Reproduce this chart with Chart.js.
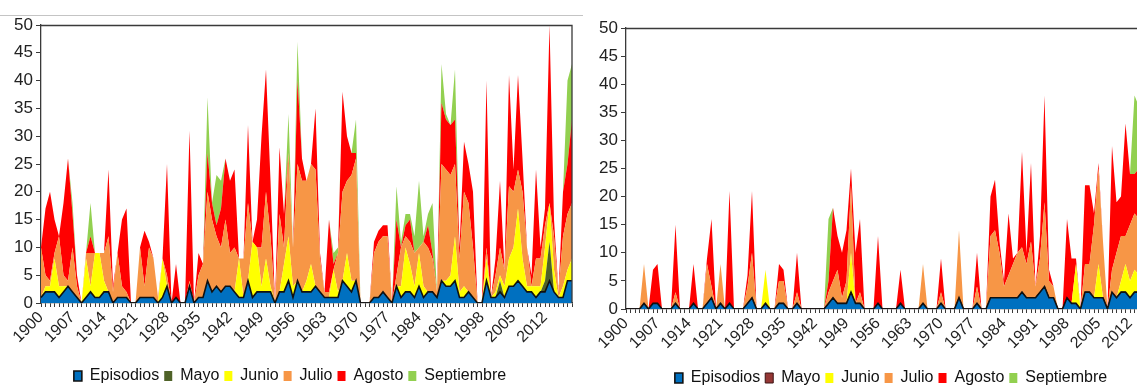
<!DOCTYPE html>
<html lang="es"><head><meta charset="UTF-8">
<title>Episodios por mes</title>
<script src="https://cdn.jsdelivr.net/npm/chart.js@4/dist/chart.umd.min.js"></script>
<style>
*{margin:0;padding:0;box-sizing:border-box}
html,body{width:1137px;height:385px;overflow:hidden;background:#fff}
.box{position:absolute;top:0}
#a{left:0;width:580px;height:396px}
#b{left:585px;width:612px;height:398px}
.rule{position:absolute;left:0;top:15px;width:583px;height:1px;background:#c4c4c4}
</style></head><body>
<div class="rule"></div>
<div class="box" id="a"><canvas id="c1"></canvas></div>
<div class="box" id="b"><canvas id="c2"></canvas></div>
<script>
const yearLabels = [];
for (let y = 1900; y <= 2018; y++) yearLabels.push(String(y));

// grafico izquierdo
const epA = [1,2,2,2,1,2,3,2,1,0, 1,2,1,1,2,2,0,1,1,1, 0,0,1,1,1,1,0,1,3,0, 1,0,0,3,0,1,1,4,2,3,
  2,3,3,2,1,1,4,1,2,2, 2,2,0,2,2,4,1,4,2,2, 2,3,2,1,1,1,1,4,3,2, 4,0,0,0,1,1,2,1,0,3,
  1,2,2,1,3,1,2,2,1,4, 3,3,4,1,1,2,1,0,0,4, 1,1,2,1,3,3,4,3,2,2, 1,2,2,4,2,1,1,4,4];
const mayoA = [0,0,0,0,0,0,0,0,0,0, 0,0,0,0,0,0,0,0,0,0, 0,0,0,0,0,0,0,0,0,0, 0,0,0,0,0,0,0,0,0,0,
  0,0,0,0,0,0,0,0,0,0, 0,0,0,0,0,0,0,0,0,0, 0,0,0,0,0,0,0,0,0,0, 0,0,0,0,0,0,0,0,0,0,
  0,0,0,0,0,0,0,0,0,0, 0,0,0,0,0,0,0,0,0,0, 0,0,2,0,0,0,0,0,0,0, 0,0,2,7,0,0,0,0,0];
const junA = [0,1,1,6,2,1,0,0,0,0, 7,1,8,8,2,0,0,0,0,0, 0,0,0,0,0,0,0,7,0,0, 0,0,0,0,0,0,0,0,0,0,
  0,0,0,0,7,0,0,10,8,1, 6,1,0,0,5,8,2,0,0,2, 5,0,0,0,0,5,1,0,6,2, 0,0,0,0,0,0,0,0,0,0,
  2,8,5,2,6,2,0,0,0,0, 1,2,8,1,2,0,0,0,0,4, 0,1,1,2,5,7,13,5,1,1, 2,1,6,7,4,0,2,2,4];
const julA = [9,2,1,1,9,2,1,8,2,0, 1,6,0,0,5,10,2,8,2,1, 0,0,9,2,9,7,1,0,2,0, 0,0,0,1,0,4,6,16,13,9,
  8,12,6,8,0,7,14,0,0,7, 12,9,0,14,3,15,7,21,20,18, 18,21,6,1,1,0,7,16,13,19, 22,0,0,0,8,10,10,11,0,2,
  7,2,4,6,1,8,8,6,1,21, 20,18,13,6,17,16,9,0,0,2, 0,3,5,3,13,10,7,12,7,0, 5,5,4,0,6,1,9,10,10];
const agoA = [0,12,16,6,0,13,22,6,2,0, 0,3,0,0,0,12,1,0,12,15, 0,0,0,10,1,0,0,0,20,0, 6,0,0,27,0,4,0,7,3,2,
  7,11,13,14,0,0,14,0,5,20, 22,10,0,12,6,0,0,15,4,0, 0,11,1,0,13,1,0,18,8,4, 1,0,0,0,2,2,2,2,0,10,
  0,2,4,0,0,0,4,1,0,11, 9,9,8,2,9,7,10,0,0,30, 0,3,12,0,20,4,17,6,0,2, 16,2,3,32,3,0,8,9,15];
const sepA = [0,0,0,0,0,0,0,2,0,0, 0,6,0,0,0,0,0,0,0,0, 0,0,0,0,0,0,0,0,0,0, 0,0,0,0,0,0,0,10,0,9,
  5,0,0,0,0,0,0,0,0,0, 0,0,0,0,0,7,0,7,0,0, 0,0,0,0,0,2,1,0,0,0, 6,0,0,0,0,0,0,0,0,6,
  1,2,1,3,12,1,2,9,0,7, 1,0,9,0,0,0,0,0,0,0, 0,0,0,0,0,0,0,0,0,0, 0,0,0,0,0,0,0,15,10];

// grafico derecho
const epB = [0,0,0,0,1,0,1,1,0,0, 0,1,0,0,0,1,0,0,1,2, 0,1,0,1,0,0,0,1,2,0, 0,1,0,0,1,1,0,0,1,0,
  0,0,0,0,0,1,2,1,1,1, 3,1,1,0,0,0,1,0,0,0, 0,1,0,0,0,0,1,0,0,0, 1,0,0,0,2,0,0,0,1,0,
  0,2,2,2,2,2,2,2,3,2, 2,2,3,4,2,2,0,0,2,1, 1,0,3,3,2,2,2,0,3,2, 3,3,2,3,3,3,3,3,3];
const mayoB = [0,0,0,0,0,0,0,0,0,0, 0,0,0,0,0,0,0,0,0,0, 0,0,0,0,0,0,0,0,0,0, 0,0,0,0,0,0,0,0,0,0,
  0,0,0,0,0,0,0,0,0,0, 0,0,0,0,0,0,0,0,0,0, 0,0,0,0,0,0,0,0,0,0, 0,0,0,0,0,0,0,0,0,0,
  0,0,0,0,0,0,0,0,0,0, 0,0,0,0,0,0,0,0,0,0, 0,0,0,0,0,0,0,0,0,0, 0,0,0,0,0,0,0,0,0];
const junB = [0,0,0,0,0,0,0,0,0,0, 0,0,0,0,0,0,0,0,0,0, 0,0,0,0,0,0,0,0,0,0, 0,6,0,0,0,0,0,0,0,0,
  0,0,0,0,0,0,0,0,0,0, 7,0,0,0,0,0,0,0,0,0, 0,0,0,0,0,0,0,0,0,0, 0,0,0,0,0,0,0,0,0,0,
  0,0,0,0,0,0,0,0,0,0, 0,0,0,0,0,0,0,0,0,0, 7,0,0,0,0,6,0,0,0,0, 2,5,3,4,3,2,2,2,2];
const julB = [0,0,0,0,7,0,0,0,0,0, 0,2,0,0,0,0,0,0,7,2, 0,7,0,0,0,0,0,3,8,0, 0,0,0,0,4,4,0,0,2,0,
  0,0,0,0,0,2,3,6,1,4, 12,0,2,0,0,0,0,0,0,0, 0,0,0,0,0,0,7,0,0,0, 2,0,0,0,12,0,0,0,3,0,
  0,11,12,8,2,4,6,8,8,6, 10,2,6,15,3,2,0,0,0,0, 0,0,5,5,13,17,10,0,4,8, 8,5,10,10,10,8,6,6,6];
const agoB = [0,0,0,0,0,0,6,7,0,0, 0,12,0,0,0,7,0,0,1,12, 0,0,0,20,0,0,0,2,11,0, 0,0,0,0,3,2,0,0,7,0,
  0,0,0,0,0,2,13,6,8,9, 3,9,13,0,0,0,12,0,0,0, 0,6,0,0,0,0,0,0,0,0, 6,0,0,0,0,0,0,0,6,0,
  0,7,9,2,1,11,1,0,17,2, 14,0,4,19,2,0,0,0,14,8, 1,0,14,14,2,1,0,0,22,9, 7,20,9,7,9,10,8,8,8];
const sepB = [0,0,0,0,0,0,0,0,0,0, 0,0,0,0,0,0,0,0,0,0, 0,0,0,0,0,0,0,0,0,0, 0,0,0,0,0,0,0,0,0,0,
  0,0,0,0,0,11,0,0,0,0, 0,0,0,0,0,0,0,0,0,0, 0,0,0,0,0,0,0,0,0,0, 0,0,0,0,0,0,0,0,0,0,
  0,0,0,0,0,0,0,0,0,0, 0,0,0,0,0,0,0,0,0,0, 0,0,0,0,0,0,0,0,0,0, 0,0,0,14,11,5,3,2,2];

const FONT = '"Liberation Sans", Arial, sans-serif';
const AXIS = '#3a3a3a';

// marco superior y derecho del area de trazado
const frame = {
  id: 'frame',
  afterDraw(chart) {
    const a = chart.chartArea, ctx = chart.ctx;
    ctx.save();
    ctx.strokeStyle = AXIS;
    ctx.lineWidth = 1.3;
    ctx.beginPath();
    ctx.moveTo(a.left, a.top + 0.5);
    ctx.lineTo(a.right, a.top + 0.5);
    ctx.lineTo(a.right, a.bottom);
    ctx.stroke();
    ctx.restore();
  }
};

function area(label, data, bg, border, bw, fill) {
  return { label, data, backgroundColor: bg, borderColor: border, borderWidth: bw,
    fill, pointRadius: 0, tension: 0 };
}

function build(id, ser, mayoCol, mayoBorder, top, bottom, rightGap) {
  new Chart(document.getElementById(id), {
    type: 'line',
    data: {
      labels: yearLabels,
      datasets: [
        area('Episodios', ser[0], '#0070C0', '#111', 1.6, 'origin'),
        area('Mayo', ser[1], mayoCol, mayoBorder, mayoBorder === 'transparent' ? 0 : 1, '-1'),
        area('Junio', ser[2], '#FFFF00', 'transparent', 0, '-1'),
        area('Julio', ser[3], '#F79646', 'transparent', 0, '-1'),
        area('Agosto', ser[4], '#FF0000', 'transparent', 0, '-1'),
        area('Septiembre', ser[5], '#92D050', 'transparent', 0, '-1')
      ]
    },
    options: {
      responsive: true, maintainAspectRatio: false, animation: false,
      layout: { padding: { top: top, left: 0, right: 0, bottom: 2 } },
      plugins: {
        tooltip: { enabled: false },
        legend: {
          position: 'bottom',
          labels: { boxWidth: 8, boxHeight: 10, padding: 5, color: '#111',
            font: { family: FONT, size: 16 } }
        }
      },
      scales: {
        x: {
          offset: false,
          grid: { drawOnChartArea: false, tickLength: 4, color: AXIS },
          border: { color: AXIS, width: 1.3 },
          ticks: { autoSkip: false, maxRotation: 45, minRotation: 45, padding: 1, color: '#222',
            font: { family: FONT, size: 16 },
            callback: (v, i) => (i % 7 === 0 ? yearLabels[i] : '') },
          afterFit(s) {
            const lg = s.chart.legend ? s.chart.legend.height : 0;
            s.height = s.chart.height - bottom - lg - 2;
            s.paddingLeft = 0;
            s.paddingRight = 0;
          }
        },
        y: {
          stacked: true, min: 0, max: 50,
          grid: { drawOnChartArea: false, tickLength: 5, color: AXIS },
          border: { color: AXIS, width: 1.3 },
          ticks: { stepSize: 5, padding: 3, color: '#222', font: { family: FONT, size: 17 } },
          afterFit(s) { s.width = 41; }
        },
        // hueco a la derecha del area de trazado
        gap: {
          position: 'right', display: true,
          grid: { display: false }, border: { display: false }, ticks: { display: false },
          afterFit(s) { s.width = rightGap; s.paddingTop = 0; s.paddingBottom = 0; }
        }
      }
    },
    plugins: [frame]
  });
}

build('c1', [epA, mayoA, junA, julA, agoA, sepA], '#4F6228', 'transparent', 25, 303, 8);
build('c2', [epB, mayoB, junB, julB, agoB, sepB], '#953735', '#3c1414', 28, 309, 40);
</script>
</body></html>
